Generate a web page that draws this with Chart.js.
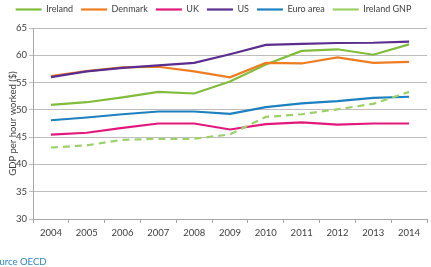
<!DOCTYPE html>
<html>
<head>
<meta charset="utf-8">
<script src="https://cdn.jsdelivr.net/npm/chart.js@4.4.1/dist/chart.umd.min.js"></script>
<style>
  html, body { margin: 0; padding: 0; background: #ffffff; }
  #wrap { width: 431px; height: 267px; position: relative; }
</style>
</head>
<body>
<div id="wrap"><canvas id="c" width="431" height="267"></canvas></div>
<script>
const years = ['2004','2005','2006','2007','2008','2009','2010','2011','2012','2013','2014'];
const ireland  = [50.9, 51.4, 52.3, 53.3, 53.0, 55.2, 58.3, 60.8, 61.1, 60.1, 62.0];
const denmark  = [56.2, 57.1, 57.8, 57.9, 57.05, 55.95, 58.6, 58.5, 59.6, 58.6, 58.8];
const uk       = [45.45, 45.8, 46.7, 47.5, 47.5, 46.4, 47.4, 47.7, 47.3, 47.5, 47.5];
const us       = [56.0, 57.05, 57.7, 58.15, 58.6, 60.2, 61.9, 62.1, 62.25, 62.3, 62.5];
const euroArea = [48.1, 48.6, 49.2, 49.7, 49.7, 49.25, 50.5, 51.2, 51.6, 52.2, 52.4];
const irelandGNP = [43.1, 43.5, 44.5, 44.7, 44.7, 45.5, 48.7, 49.2, 50.1, 51.1, 53.3];
const seriesNames = ['Ireland', 'Denmark', 'UK', 'US', 'Euro area', 'Ireland GNP'];
const yTitle = 'GDP per hour worked ($)';
const sourceText = 'Source OECD';

const colors = ['#82bc3c', '#ee7d22', '#e2187b', '#5b2d8e', '#1f80c0', '#9dd06a'];
const values = [ireland, denmark, uk, us, euroArea, irelandGNP];
const FONT = 'Lato, "Open Sans", sans-serif';

const datasets = values.map((v, i) => ({
  label: seriesNames[i],
  data: v,
  borderColor: colors[i],
  backgroundColor: colors[i],
  borderWidth: 2.2,
  borderDash: i === 5 ? [7, 5] : [],
  pointRadius: 0,
  pointHoverRadius: 0,
  tension: 0,
  fill: false,
  order: 10 - i
}));

const sourcePlugin = {
  id: 'sourceNote',
  afterInit(chart) {
    if (chart.legend && !chart.legend._patched) {
      const origFit = chart.legend.fit;
      chart.legend.fit = function () { origFit.call(this); this.height += 4; };
      chart.legend._patched = true;
    }
  },
  afterDraw(chart) {
    const ctx = chart.ctx;
    ctx.save();
    ctx.font = '9.5px ' + FONT;
    ctx.fillStyle = '#2f86c0';
    ctx.textBaseline = 'middle';
    ctx.textAlign = 'left';
    ctx.fillText(sourceText, -11, 262);
    ctx.restore();
  }
};

new Chart(document.getElementById('c'), {
  type: 'line',
  data: { labels: years, datasets },
  plugins: [sourcePlugin],
  options: {
    responsive: false,
    animation: false,
    devicePixelRatio: 1,
    layout: { padding: { top: -3, right: 4, bottom: 24, left: 0 } },
    plugins: {
      tooltip: { enabled: false },
      legend: {
        position: 'top',
        labels: {
          usePointStyle: true,
          pointStyle: 'line',
          pointStyleWidth: 26,
          boxHeight: 9,
          padding: 8,
          color: '#404040',
          font: { family: FONT, size: 9 },
          sort: (a, b) => a.datasetIndex - b.datasetIndex
        }
      }
    },
    scales: {
      x: {
        type: 'category',
        offset: true,
        grid: { display: true, drawOnChartArea: false, offset: true, tickLength: 4, color: '#a6a6a6' },
        border: { display: true, color: '#a6a6a6', width: 1 },
        ticks: { color: '#404040', font: { family: FONT, size: 9.5 }, padding: 4, maxRotation: 0, autoSkip: false },
        afterFit(scale) { scale.height = 24; }
      },
      y: {
        min: 30,
        max: 65,
        ticks: { stepSize: 5, color: '#404040', font: { family: FONT, size: 9.5 }, padding: 2 },
        grid: { color: '#bdbdbd', lineWidth: 1, tickLength: 4 },
        border: { display: true, color: '#a6a6a6', width: 1 },
        title: { display: true, text: yTitle, color: '#404040', font: { family: FONT, size: 9.5 }, padding: { top: 7, bottom: 0 } },
        afterFit(scale) { scale.width = 33; }
      }
    }
  }
});
</script>
</body>
</html>
